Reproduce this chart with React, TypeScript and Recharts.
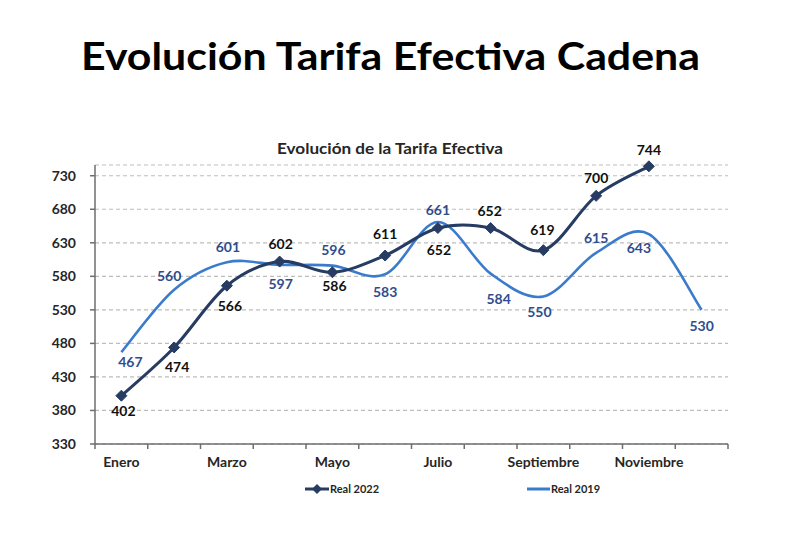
import React from 'react';
import { LineChart, Line, XAxis, YAxis, CartesianGrid, LabelList } from 'recharts';

const MONTHS = ['Enero', 'Febrero', 'Marzo', 'Abril', 'Mayo', 'Junio', 'Julio', 'Agosto', 'Septiembre', 'Octubre', 'Noviembre', 'Diciembre'];
const REAL_2022: (number | null)[] = [402, 474, 566, 602, 586, 611, 652, 652, 619, 700, 744, null];
const REAL_2019: number[] = [467, 560, 601, 597, 596, 583, 661, 584, 550, 615, 643, 530];
const Y_TICKS = [330, 380, 430, 480, 530, 580, 630, 680, 730];

// label placement (layout only)
const LBL_2022_DX = [2, 3, 3, 1, 2, 0, 1, -1, -1, 0, 0, 0];
const LBL_2022_DY = [15, 20, 20, -18, 14, -22, 22, -17, -20, -18, -16, 0];
const LBL_2019_DX = [9, -5, 1, 1, 1, 0, 0, 8, -4, 0, -10, 0];
const LBL_2019_DY = [10, -14, -15, 19, -16, 18, -12, 25, 16, -15, 14, 16];

const data = MONTHS.map((m, i) => ({ month: m, r2022: REAL_2022[i], r2019: REAL_2019[i] }));

const W = 790;
const H = 534;
const PLOT_LEFT = 95;
const PLOT_RIGHT = 728;
const BAND = (PLOT_RIGHT - PLOT_LEFT) / MONTHS.length;
const FONT = "Lato, 'DejaVu Sans', sans-serif";
const NAVY = '#273C62';
const BLUE = '#3A7BCB';
const BLUE_TXT = '#2F4D8E';
const AXIS = '#6E6E6E';

function excelCurve(context: any) {
  let xs: number[] = [];
  let ys: number[] = [];
  return {
    areaStart() {},
    areaEnd() {},
    lineStart() {
      xs = [];
      ys = [];
    },
    lineEnd() {
      const n = xs.length;
      if (!n) return;
      context.moveTo(xs[0], ys[0]);
      for (let i = 0; i < n - 1; i++) {
        const i0 = Math.max(i - 1, 0);
        const i3 = Math.min(i + 2, n - 1);
        const x1 = xs[i], y1 = ys[i], x2 = xs[i + 1], y2 = ys[i + 1];
        context.bezierCurveTo(
          x1 + (x2 - xs[i0]) / 6,
          y1 + (y2 - ys[i0]) / 6,
          x2 - (xs[i3] - x1) / 6,
          y2 - (ys[i3] - y1) / 6,
          x2,
          y2
        );
      }
    },
    point(x: number, y: number) {
      xs.push(+x);
      ys.push(+y);
    },
  };
}

const Diamond = (props: any) => {
  const { cx, cy, index } = props;
  if (cx == null || cy == null || props.value == null) return <g key={`d-${index}`} />;
  const s = 5.5;
  return (
    <path
      key={`d-${index}`}
      d={`M${cx},${cy - s}L${cx + s},${cy}L${cx},${cy + s}L${cx - s},${cy}Z`}
      fill={NAVY}
      stroke={NAVY}
    />
  );
};

const makeLabel = (dxs: number[], dys: number[], color: string) => (props: any) => {
  const { x, y, value, index } = props;
  if (value == null || x == null || y == null) return null;
  return (
    <text
      x={x + dxs[index]}
      y={y + dys[index] + 5}
      textAnchor="middle"
      fill={color}
      fontFamily={FONT}
      fontWeight={700}
      fontSize={14}
    >
      {value}
    </text>
  );
};

const XTick = (props: any) => {
  const { x, y, payload, index } = props;
  const half = BAND / 2;
  return (
    <g>
      <line x1={x - half} x2={x - half} y1={y} y2={y + 5} stroke={AXIS} strokeWidth={1.5} />
      {index === MONTHS.length - 1 && (
        <line x1={x + half} x2={x + half} y1={y} y2={y + 5} stroke={AXIS} strokeWidth={1.5} />
      )}
      {index % 2 === 0 && (
        <text
          x={x}
          y={y + 23}
          textAnchor="middle"
          fill="#262626"
          fontFamily={FONT}
          fontWeight={700}
          fontSize={14}
        >
          {payload.value}
        </text>
      )}
    </g>
  );
};

export default function App() {
  return (
    <div style={{ position: 'absolute', left: 0, top: 0, width: W, height: H, background: '#fff' }}>
      <LineChart
        width={W}
        height={H}
        data={data}
        margin={{ top: 165, right: W - PLOT_RIGHT, bottom: 60, left: 0 }}
      >
        <CartesianGrid horizontal vertical={false} stroke="#BDBDBD" strokeDasharray="4 3" strokeWidth={1.2} />
        <XAxis
          dataKey="month"
          interval={0}
          padding={{ left: BAND / 2, right: BAND / 2 }}
          axisLine={{ stroke: AXIS, strokeWidth: 1.5 }}
          tickLine={false}
          tickSize={0}
          tickMargin={0}
          height={30}
          tick={<XTick />}
        />
        <YAxis
          width={PLOT_LEFT}
          domain={[330, 746]}
          ticks={Y_TICKS}
          interval={0}
          axisLine={{ stroke: AXIS, strokeWidth: 1.5 }}
          tickLine={{ stroke: AXIS, strokeWidth: 1.5 }}
          tickSize={5}
          tickMargin={14}
          tick={{ fill: '#262626', fontSize: 14, fontWeight: 700, fontFamily: FONT }}
        />
        <Line
          dataKey="r2019"
          type={excelCurve as any}
          stroke={BLUE}
          strokeWidth={2.6}
          dot={false}
          activeDot={false}
          isAnimationActive={false}
        >
          <LabelList dataKey="r2019" content={makeLabel(LBL_2019_DX, LBL_2019_DY, BLUE_TXT)} />
        </Line>
        <Line
          dataKey="r2022"
          type={excelCurve as any}
          stroke={NAVY}
          strokeWidth={3}
          dot={<Diamond />}
          activeDot={false}
          isAnimationActive={false}
        >
          <LabelList dataKey="r2022" content={makeLabel(LBL_2022_DX, LBL_2022_DY, '#111')} />
        </Line>
      </LineChart>
      <svg
        width={W}
        height={H}
        style={{ position: 'absolute', left: 0, top: 0, pointerEvents: 'none' }}
      >
        <text
          x={81}
          y={69.5}
          fontFamily={FONT}
          fontWeight={700}
          fontSize={38}
          fill="#000"
          textLength={619}
          lengthAdjust="spacingAndGlyphs"
        >
          Evolución Tarifa Efectiva Cadena
        </text>
        <text
          x={277}
          y={153.5}
          fontFamily={FONT}
          fontWeight={700}
          fontSize={16}
          fill="#262626"
          textLength={226}
          lengthAdjust="spacingAndGlyphs"
        >
          Evolución de la Tarifa Efectiva
        </text>
        <line x1={305} x2={329} y1={489} y2={489} stroke={NAVY} strokeWidth={3} />
        <path d="M317,484L322,489L317,494L312,489Z" fill={NAVY} />
        <text x={330} y={493} fontFamily={FONT} fontWeight={700} fontSize={11} fill="#262626">
          Real 2022
        </text>
        <line x1={527} x2={550} y1={489} y2={489} stroke={BLUE} strokeWidth={3} />
        <text x={551} y={493} fontFamily={FONT} fontWeight={700} fontSize={11} fill="#262626">
          Real 2019
        </text>
      </svg>
    </div>
  );
}
